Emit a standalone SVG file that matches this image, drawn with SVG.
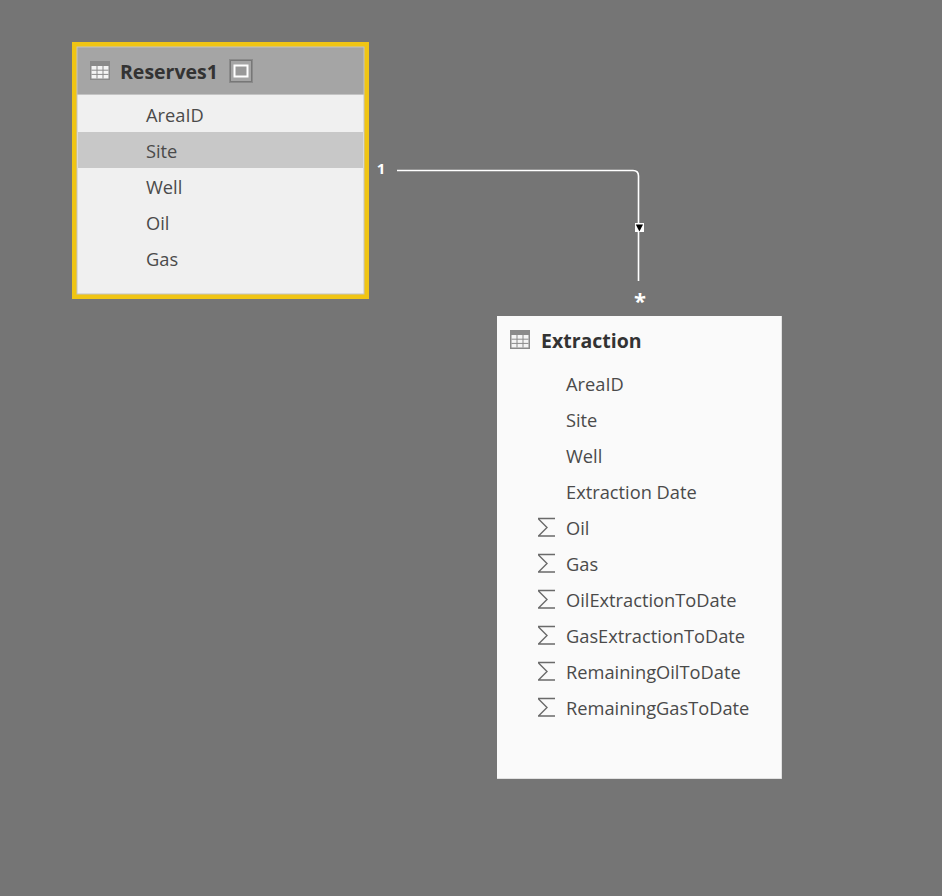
<svg xmlns="http://www.w3.org/2000/svg" width="942" height="896" viewBox="0 0 942 896">
<style>
text{font-family:"Open Sans","Noto Sans","Liberation Sans",sans-serif}
.f{font-size:18.25px;fill:#4a4a4a}
.t{font-size:19.5px;font-weight:700;fill:#333}
.c{font-size:15px;font-weight:700;fill:#fff;text-anchor:middle}
.g{fill:none;stroke:#6a6a6a;stroke-width:1.4}
</style>
<defs>
<g id="tbl"><rect x="0" y="0" width="20" height="19" fill="#8a8a8a"/><path d="M1.500 5h17v12.500h-17z" fill="#f4f4f4"/><path d="M1.500 9.200h17M1.500 13.400h17M7 5v12.500M13 5v12.500" stroke="#8a8a8a" stroke-width="1" fill="none"/></g>
<path id="sig" d="M0 0H17M0.500 0.500L9 9L0.500 17.500M0 17.500H17" class="g"/>
</defs>
<rect width="942" height="896" fill="#757575"/>
<g id="connectors">
<path d="M397 170.500H633Q638.500 170.500 638.500 176V281" fill="none" stroke="#fff" stroke-width="1.600"/>
<rect x="635" y="223" width="9" height="9" fill="#fff"/>
<path d="M635.800 224.500H643L639.400 231.500Z" fill="#000"/>
<text class="c" x="381" y="174">1</text>
<text class="c" x="640" y="309" style="font-size:22px">*</text>
</g>
<g id="reserves1">
<rect x="74.500" y="44.500" width="292" height="252" fill="#f0f0f0" stroke="#f0c514" stroke-width="5"/>
<rect x="77" y="47" width="287" height="47" fill="#a5a5a5"/>
<rect x="77" y="47" width="287" height="247" fill="none" stroke="#c4c4c4" stroke-width="1"/>
<path d="M77 94.500H364" stroke="#c4c4c4" stroke-width="1"/>
<rect x="78" y="132" width="285" height="36" fill="#c8c8c8"/>
<use href="#tbl" x="90" y="61"/>
<text class="t" x="120" y="79">Reserves1</text>
<rect x="229" y="59" width="24" height="24" fill="#8a8a8a"/>
<rect x="230.500" y="60.500" width="21" height="21" fill="#a5a5a5" stroke="#777"/>
<rect x="234.500" y="65.500" width="13" height="11" fill="#999" stroke="#fff" stroke-width="2"/>
<text class="f" x="146" y="122">AreaID</text>
<text class="f" x="146" y="158">Site</text>
<text class="f" x="146" y="194">Well</text>
<text class="f" x="146" y="230">Oil</text>
<text class="f" x="146" y="266">Gas</text>
</g>
<g id="extraction">
<rect x="497" y="316" width="285" height="463" fill="#c8c8c8"/>
<rect x="497" y="316" width="284.500" height="462.500" fill="#fafafa"/>
<use href="#tbl" x="510" y="330"/>
<text class="t" x="541" y="348">Extraction</text>
<text class="f" x="566" y="391">AreaID</text>
<text class="f" x="566" y="427">Site</text>
<text class="f" x="566" y="463">Well</text>
<text class="f" x="566" y="499">Extraction Date</text>
<use href="#sig" x="538" y="518.500"/><text class="f" x="566" y="535">Oil</text>
<use href="#sig" x="538" y="554.500"/><text class="f" x="566" y="571">Gas</text>
<use href="#sig" x="538" y="590.500"/><text class="f" x="566" y="607">OilExtractionToDate</text>
<use href="#sig" x="538" y="626.500"/><text class="f" x="566" y="643">GasExtractionToDate</text>
<use href="#sig" x="538" y="662.500"/><text class="f" x="566" y="679">RemainingOilToDate</text>
<use href="#sig" x="538" y="698.500"/><text class="f" x="566" y="715">RemainingGasToDate</text>
</g>
</svg>
